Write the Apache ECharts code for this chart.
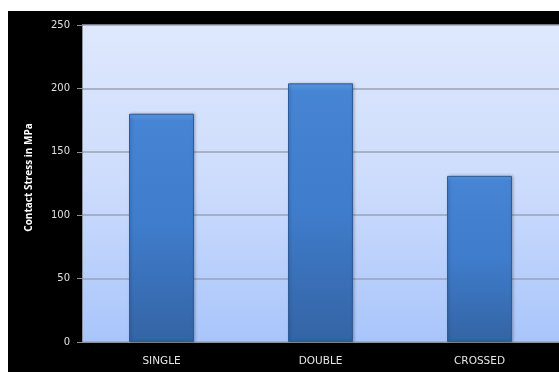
<!DOCTYPE html>
<html>
<head>
<meta charset="utf-8">
<script src="https://cdn.jsdelivr.net/npm/echarts@6/dist/echarts.min.js"></script>
<style>
  html, body { margin: 0; padding: 0; background: #ffffff; width: 559px; height: 372px; overflow: hidden; }
  #chart { position: absolute; left: 8px; top: 11px; width: 551px; height: 361px; }
</style>
</head>
<body>
<div id="chart"></div>
<script>
// Contact stress for each configuration
const categories = ['SINGLE', 'DOUBLE', 'CROSSED'];
const stressValues = [180, 204, 131];
const yTicks = { min: 0, max: 250, interval: 50 };
const axisTitle = 'Contact Stress in MPa';

const chart = echarts.init(document.getElementById('chart'));

chart.setOption({
  backgroundColor: '#000000',
  animation: false,
  grid: {
    left: 74, right: 0, top: 14, bottom: 30,
    show: true,
    borderWidth: 0,
    backgroundColor: new echarts.graphic.LinearGradient(0, 0, 0, 1, [
      { offset: 0, color: '#dee8fd' },
      { offset: 0.5, color: '#cddcfc' },
      { offset: 1, color: '#a8c5fb' }
    ])
  },
  xAxis: {
    type: 'category',
    data: categories,
    axisLine: { show: true, lineStyle: { color: '#8c929c', width: 1 } },
    axisTick: { show: false },
    axisLabel: {
      color: '#e6e6e6',
      fontFamily: 'DejaVu Sans',
      fontSize: 10.5,
      margin: 14
    }
  },
  yAxis: {
    type: 'value',
    min: yTicks.min,
    max: yTicks.max,
    interval: yTicks.interval,
    name: axisTitle,
    nameLocation: 'middle',
    nameGap: 48,
    nameTextStyle: {
      color: '#ffffff',
      fontFamily: 'Open Sans',
      fontWeight: 'bold',
      fontSize: 10,
      padding: [0, 0, 0, 12]
    },
    axisLine: { show: true, lineStyle: { color: '#8c929c', width: 1 } },
    axisTick: { show: true, length: 5, lineStyle: { color: '#8c929c' } },
    axisLabel: {
      color: '#e0e0e0',
      fontFamily: 'DejaVu Sans',
      fontSize: 10,
      margin: 12
    },
    splitLine: { show: true, lineStyle: { color: '#9ba3b2', width: 1.5 } }
  },
  series: [{
    type: 'bar',
    data: stressValues,
    barWidth: 65,
    itemStyle: {
      color: new echarts.graphic.LinearGradient(0, 0, 0, 1, [
        { offset: 0, color: '#5a9ae6' },
        { offset: 0.03, color: '#4684d4' },
        { offset: 0.5, color: '#3f7ccb' },
        { offset: 1, color: '#3464a4' }
      ]),
      borderColor: '#2f5c98',
      borderWidth: 1,
      shadowColor: 'rgba(0,0,0,0.25)',
      shadowBlur: 3,
      shadowOffsetX: 1
    }
  }]
});
</script>
</body>
</html>
